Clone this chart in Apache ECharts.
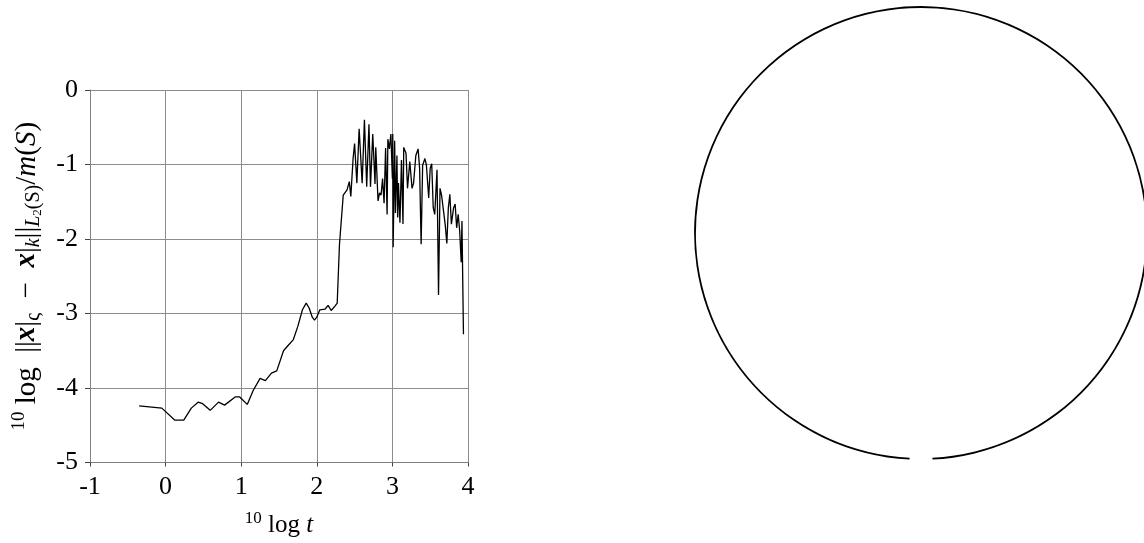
<!DOCTYPE html>
<html>
<head>
<meta charset="utf-8">
<script src="https://cdn.jsdelivr.net/npm/echarts@6/dist/echarts.min.js"></script>
<style>
html,body{margin:0;padding:0;background:#fff;}
#chart{width:1144px;height:543px;}
</style>
</head>
<body>
<div id="chart"></div>
<script>
// ---- data ----
const logT = [-0.35, -0.05, 0.12, 0.24, 0.34, 0.43, 0.49, 0.59, 0.70, 0.78,
  0.92, 0.98, 1.08, 1.16, 1.25, 1.32, 1.40, 1.47, 1.56, 1.62,
  1.64, 1.69, 1.75, 1.81, 1.86, 1.90, 1.94, 1.97, 2.00, 2.04,
  2.11, 2.15, 2.19, 2.24, 2.27, 2.30, 2.35, 2.40, 2.43, 2.45,
  2.48, 2.50, 2.53, 2.56, 2.60, 2.63, 2.66, 2.69, 2.71, 2.74,
  2.77, 2.78, 2.81, 2.83, 2.85, 2.87, 2.89, 2.91, 2.93, 2.94,
  2.96, 2.98, 3.00, 3.005, 3.01, 3.03, 3.04, 3.06, 3.07, 3.08,
  3.10, 3.12, 3.14, 3.15, 3.18, 3.20, 3.23, 3.26, 3.28, 3.31,
  3.34, 3.36, 3.38, 3.40, 3.43, 3.45, 3.48, 3.50, 3.52, 3.54,
  3.56, 3.59, 3.61, 3.63, 3.65, 3.67, 3.70, 3.72, 3.74, 3.76,
  3.78, 3.81, 3.83, 3.85, 3.87, 3.89, 3.91, 3.92, 3.94];
const logErr = [-4.24, -4.27, -4.43, -4.43, -4.27, -4.19, -4.21, -4.30, -4.19, -4.23,
  -4.12, -4.12, -4.22, -4.03, -3.87, -3.90, -3.80, -3.77, -3.50, -3.43,
  -3.44, -3.35, -3.17, -2.95, -2.86, -2.93, -3.05, -3.09, -3.05, -2.95,
  -2.94, -2.89, -2.96, -2.90, -2.86, -2.07, -1.41, -1.34, -1.23, -1.43,
  -0.92, -0.72, -1.25, -0.52, -1.25, -0.40, -1.30, -0.46, -1.30, -0.59,
  -1.26, -0.77, -1.49, -1.38, -1.41, -1.19, -1.52, -0.78, -1.67, -0.66,
  -0.79, -0.59, -1.19, -0.59, -2.11, -0.68, -1.65, -0.88, -1.71, -1.25,
  -1.78, -0.94, -1.80, -0.77, -0.85, -1.32, -0.96, -1.32, -1.25, -0.88,
  -0.79, -1.05, -2.07, -1.01, -0.92, -1.01, -1.45, -1.05, -0.99, -1.58,
  -1.67, -1.07, -2.75, -1.32, -1.41, -1.43, -1.82, -2.06, -1.58, -1.40,
  -1.80, -1.58, -1.53, -1.85, -1.67, -1.89, -2.31, -1.76, -3.28];
const xTicks = [-1, 0, 1, 2, 3, 4];
const yTicks = [-5, -4, -3, -2, -1, 0];
// circle on the right: drawn arc and the small gap at the bottom (degrees)
const circleArc = [354.2, 5.8];

// ---- chart ----
const serif = "'Liberation Serif', 'DejaVu Serif', serif";
const chart = echarts.init(document.getElementById('chart'), null, {renderer: 'canvas'});
const lineData = logT.map((t, i) => [t, logErr[i]]);

const option = {
  animation: false,
  backgroundColor: '#ffffff',
  grid: {left: 90, top: 90, width: 378, height: 378, containLabel: false},
  xAxis: {
    type: 'value',
    min: xTicks[0], max: xTicks[xTicks.length - 1], interval: 1,
    axisLine: {onZero: false, lineStyle: {color: '#808080', width: 1}},
    axisTick: {show: true, length: 4, lineStyle: {color: '#404040'}},
    splitLine: {show: true, lineStyle: {color: '#8c8c8c', width: 1}},
    axisLabel: {color: '#000', fontFamily: serif, fontSize: 26, margin: 12},
    name: '{sup|10}{n| log }{i|t}',
    nameLocation: 'middle',
    nameGap: 48,
    nameTextStyle: {
      color: '#000', fontFamily: serif, fontSize: 25,
      rich: {
        n: {fontFamily: serif, fontSize: 25, lineHeight: 30, color: '#000'},
        i: {fontFamily: serif, fontSize: 25, lineHeight: 30, fontStyle: 'italic', color: '#000'},
        sup: {fontFamily: serif, fontSize: 17, lineHeight: 16, verticalAlign: 'top', color: '#000'}
      }
    }
  },
  yAxis: {
    type: 'value',
    min: yTicks[0], max: yTicks[yTicks.length - 1], interval: 1,
    axisLine: {onZero: false, lineStyle: {color: '#808080', width: 1}},
    axisTick: {show: true, length: 5, lineStyle: {color: '#404040'}},
    splitLine: {show: true, lineStyle: {color: '#8c8c8c', width: 1}},
    axisLabel: {color: '#000', fontFamily: serif, fontSize: 26, margin: 12},
    name: '{sup|10}{n| log  ||}{bi|x}{n||}{sub|ς}{n|  −  }{bi|x}{n||}{subi|k}{n|||}{subi|L}{sup2|2}{sub|(S)}{n|/}{i|m}{n|(}{i|S}{n|)}',
    nameLocation: 'middle',
    nameGap: 46,
    nameTextStyle: {
      color: '#000', fontFamily: serif, fontSize: 29,
      rich: {
        n: {fontFamily: serif, fontSize: 29, lineHeight: 34, color: '#000'},
        i: {fontFamily: serif, fontSize: 29, lineHeight: 34, fontStyle: 'italic', color: '#000'},
        bi: {fontFamily: serif, fontSize: 29, lineHeight: 34, fontStyle: 'italic', fontWeight: 'bold', color: '#000'},
        sup: {fontFamily: serif, fontSize: 19, lineHeight: 18, verticalAlign: 'top', color: '#000'},
        sub: {fontFamily: serif, fontSize: 20, lineHeight: 18, verticalAlign: 'bottom', color: '#000'},
        subi: {fontFamily: serif, fontSize: 20, lineHeight: 18, verticalAlign: 'bottom', fontStyle: 'italic', color: '#000'},
        sup2: {fontFamily: serif, fontSize: 13, lineHeight: 30, verticalAlign: 'bottom', color: '#000'}
      }
    }
  },
  series: [
    {
      type: 'line',
      data: lineData,
      showSymbol: false,
      symbol: 'none',
      smooth: false,
      lineStyle: {color: '#000', width: 1.3},
      silent: true,
      z: 3
    },
    {
      type: 'pie',
      center: [921, 233],
      radius: [225.1, 226.9],
      startAngle: 267.1,
      clockwise: true,
      silent: true,
      avoidLabelOverlap: false,
      label: {show: false},
      labelLine: {show: false},
      emphasis: {disabled: true},
      itemStyle: {borderWidth: 0},
      data: [
        {value: circleArc[0], itemStyle: {color: '#000'}},
        {value: circleArc[1], itemStyle: {color: 'rgba(0,0,0,0)'}}
      ]
    }
  ]
};
chart.setOption(option);
</script>
</body>
</html>
